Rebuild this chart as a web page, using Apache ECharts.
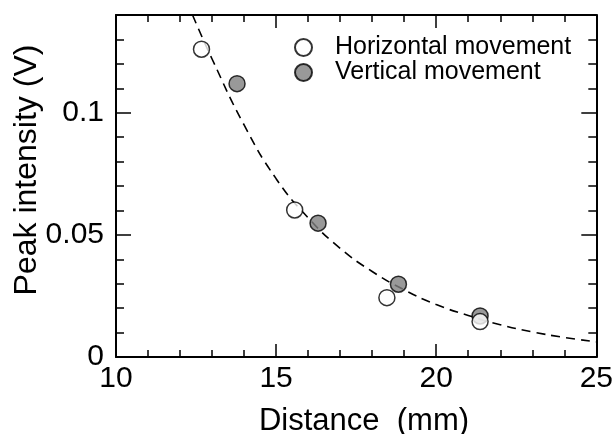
<!DOCTYPE html>
<html>
<head>
<meta charset="utf-8">
<script src="https://cdn.jsdelivr.net/npm/echarts@6/dist/echarts.min.js"></script>
<style>
  html, body { margin: 0; padding: 0; background: #fff; }
  #chart { width: 616px; height: 434px; }
</style>
</head>
<body>
<div id="chart"></div>
<script>
// measured points (distance mm, peak intensity V)
const horizontal = [[12.67, 0.126], [15.58, 0.0602], [18.46, 0.0243], [21.37, 0.0145]];
const vertical = [[13.78, 0.1119], [16.31, 0.0548], [18.82, 0.0298], [21.37, 0.0168]];
// dashed fit line
const fitLine = [
  [12.39, 0.140], [13, 0.122], [14, 0.095], [15, 0.073], [16, 0.057],
  [17, 0.0445], [18, 0.035], [19, 0.0275], [20, 0.0215], [21, 0.017],
  [22, 0.0132], [23, 0.0103], [24, 0.0080], [25, 0.0062]
];
const xTicks = [10, 15, 20, 25];
const yTicks = [0, 0.05, 0.1];

const font = "'Liberation Sans', Arial, sans-serif";
const black = '#000';

function xAxisOf(pos, labels) {
  return {
    type: 'value', position: pos, min: xTicks[0], max: xTicks[xTicks.length - 1], interval: 5,
    axisLine: { show: true, onZero: false, lineStyle: { color: black, width: 2 } },
    axisTick: { show: true, inside: true, length: 13, lineStyle: { color: black, width: 1.5 } },
    minorTick: { show: true, splitNumber: 5, length: 7, lineStyle: { color: black, width: 1.5 } },
    axisLabel: { show: labels, color: black, fontSize: 30, fontFamily: font, margin: 7 },
    splitLine: { show: false }
  };
}

function yAxisOf(pos, labels) {
  return [{
    type: 'value', position: pos, min: 0, max: 0.14,
    axisLine: { show: true, onZero: false, lineStyle: { color: black, width: 2 } },
    axisTick: { show: true, inside: true, length: 15, customValues: yTicks, lineStyle: { color: black, width: 1.5 } },
    axisLabel: { show: labels, customValues: yTicks, color: black, fontSize: 30, fontFamily: font, margin: 12 },
    splitLine: { show: false }
  }, {
    // minor ticks every 0.01
    type: 'value', position: pos, min: 0, max: 0.14, interval: 0.01,
    axisLine: { show: false },
    axisTick: { show: true, inside: true, length: 8, lineStyle: { color: black, width: 1.5 } },
    axisLabel: { show: false },
    splitLine: { show: false }
  }];
}

const chart = echarts.init(document.getElementById('chart'));
chart.setOption({
  animation: false,
  backgroundColor: '#fff',
  grid: { left: 116, right: 19, top: 15, bottom: 77 },
  xAxis: [xAxisOf('bottom', true), xAxisOf('top', false)],
  yAxis: [...yAxisOf('left', true), ...yAxisOf('right', false)],
  legend: {
    orient: 'vertical', left: 289, top: 30,
    itemWidth: 17, itemHeight: 17, itemGap: 0,
    data: [
      { name: 'Horizontal movement', icon: 'circle' },
      { name: 'Vertical movement', icon: 'circle' }
    ],
    textStyle: { color: black, fontSize: 25, fontFamily: font, padding: [0, 0, 0, 18] }
  },
  graphic: [
    { type: 'text', x: 364, y: 421, style: { text: 'Distance  (mm)', font: '31px ' + font, fill: black, textAlign: 'center', textVerticalAlign: 'middle' } },
    { type: 'text', x: 27, y: 170, rotation: Math.PI / 2, style: { text: 'Peak intensity (V)', font: '32px ' + font, fill: black, textAlign: 'center', textVerticalAlign: 'middle' } }
  ],
  series: [
    {
      type: 'line', data: fitLine, xAxisIndex: 0, yAxisIndex: 0,
      smooth: true, showSymbol: false, silent: true, z: 1,
      lineStyle: { color: black, width: 1.6, type: [9, 6] }
    },
    {
      name: 'Horizontal movement', type: 'scatter', data: horizontal, xAxisIndex: 0, yAxisIndex: 0,
      symbol: 'circle', symbolSize: 16, z: 3,
      itemStyle: { color: '#fff', borderColor: black, borderWidth: 1.5 }
    },
    {
      name: 'Vertical movement', type: 'scatter', data: vertical, xAxisIndex: 0, yAxisIndex: 0,
      symbol: 'circle', symbolSize: 16, z: 2,
      itemStyle: { color: '#808080', borderColor: black, borderWidth: 1.5 }
    }
  ]
});
</script>
</body>
</html>
